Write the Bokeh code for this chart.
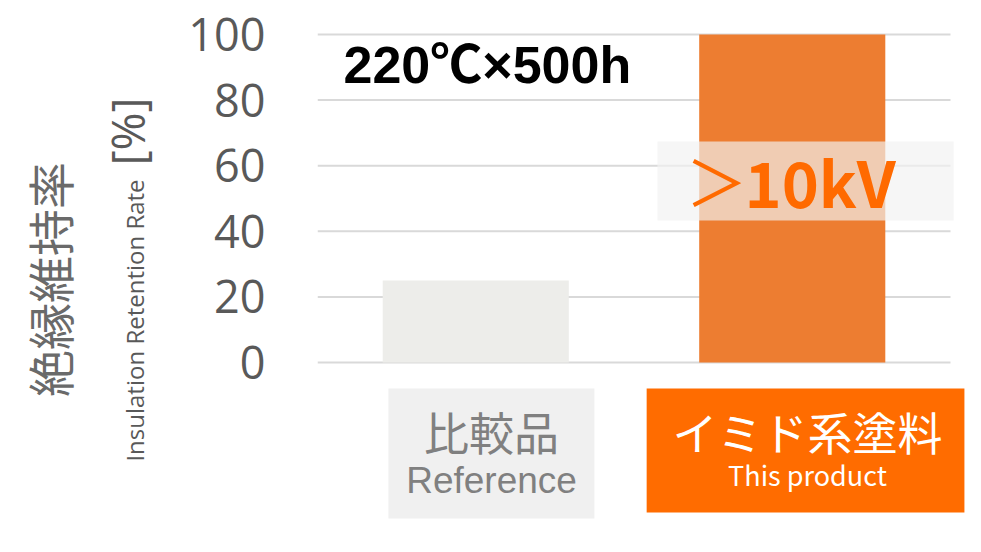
import math
from bokeh.plotting import figure
from bokeh.layouts import row
from bokeh.models import Range1d, FixedTicker, Label
from bokeh.core.properties import value
from bokeh.embed import file_html
from bokeh.resources import INLINE

# ---- data ----
categories_ja = ["比較品", "イミド系塗料"]
categories_en = ["Reference", "This product"]
retention = [25, 100]
y_ticks = [0, 20, 40, 60, 80, 100]
condition = "220℃×500h"
highlight_sign = "＞"
highlight_value = "10kV"
y_title_ja = "絶縁維持率"
y_title_en = "Insulation Retention Rate"
y_unit = "[%]"

# ---- styles ----
bar_colors = ["#EDEDEA", "#ED7D31"]
box_colors = ["#F0F0F0", "#FF6C00"]
label_colors = ["#808080", "#FFFFFF"]
AXIS_GRAY = "#595959"
HIGHLIGHT = "#FF6A00"

W, H = 965, 536
TITLE_W = 170
LEFT = 147
n = len(categories_ja)
xs = [i + 0.5 for i in range(n)]

# ---- left panel with the rotated axis titles ----
t = figure(width=TITLE_W, height=H, output_backend="svg", toolbar_location=None,
           x_range=Range1d(0, TITLE_W), y_range=Range1d(0, H),
           x_axis_location=None, y_axis_location=None,
           min_border_left=0, min_border_right=0, min_border_top=0, min_border_bottom=0)
t.outline_line_color = None
t.xgrid.grid_line_color = None
t.ygrid.grid_line_color = None
t.text(x=[48], y=[H - 279], text=[y_title_ja], angle=math.pi / 2, text_align="center",
       text_baseline="middle", text_font=value("Noto Sans CJK JP"), text_font_size="47px",
       text_color="#6A6A6A")
t.text(x=[134], y=[H - 320], text=[y_title_en], angle=math.pi / 2, text_align="center",
       text_baseline="middle", text_font=value("Open Sans"), text_font_size="24px",
       text_color=AXIS_GRAY)
t.text(x=[126], y=[H - 131], text=[y_unit], angle=math.pi / 2, text_align="center",
       text_baseline="middle", text_font=value("Open Sans"), text_font_size="46px",
       text_color=AXIS_GRAY)

# ---- main chart ----
p = figure(width=W - TITLE_W, height=H, output_backend="svg", toolbar_location=None,
           x_range=Range1d(0, 2.0474), y_range=Range1d(-53.05, 110.37),
           x_axis_location=None, min_border_left=LEFT, min_border_right=0,
           min_border_top=0, min_border_bottom=0)
p.outline_line_color = None
p.xgrid.grid_line_color = None
p.ygrid.grid_line_color = None

ax = p.yaxis[0]
ax.ticker = FixedTicker(ticks=y_ticks)
ax.axis_line_color = None
ax.major_tick_line_color = None
ax.minor_tick_line_color = None
ax.major_tick_in = 0
ax.major_tick_out = 0
ax.major_label_standoff = 52
ax.major_label_text_font = "Open Sans"
ax.major_label_text_font_size = "45px"
ax.major_label_text_color = AXIS_GRAY

# gridlines spanning the categories only
p.segment(x0=[0] * len(y_ticks), x1=[n] * len(y_ticks), y0=y_ticks, y1=y_ticks,
          line_color="#D9D9D9", line_width=2)

# bars
p.vbar(x=xs, top=retention, bottom=0, width=0.588, fill_color=bar_colors, line_color=None)

# highlight box + text on product bar
p.quad(left=[xs[1] - 0.426], right=[xs[1] + 0.51], bottom=[43.3], top=[67.4],
       fill_color="#F2F2F2", fill_alpha=0.68, line_color=None)
split_x = xs[1] - 0.151
p.text(x=[split_x + 0.01], y=[55.5], text=[highlight_sign], text_align="right", text_baseline="middle",
       text_font=value("Noto Sans CJK JP"), text_font_size="62px", text_color=HIGHLIGHT)
p.text(x=[split_x], y=[55.5], text=[highlight_value], text_align="left", text_baseline="middle",
       text_font=value("Noto Sans CJK JP"), text_font_style="bold", text_font_size="63px",
       text_color=HIGHLIGHT)

# category boxes below the axis
box_left = [xs[0] - 0.276, xs[1] - 0.46]
box_right = [xs[0] + 0.375, xs[1] + 0.544]
box_bottom = [-47.56, -45.73]
p.quad(left=box_left, right=box_right, top=[-7.93] * n, bottom=box_bottom,
       fill_color=box_colors, line_color=None)
text_x = [xs[0] + 0.05, xs[1] + 0.048]
p.text(x=text_x, y=[-21.0] * n, text=categories_ja, text_align="center", text_baseline="middle",
       text_font=value("Noto Sans CJK JP"), text_font_size="45px", text_color=label_colors)
p.text(x=[text_x[0]], y=[-36.0], text=[categories_en[0]], text_align="center", text_baseline="middle",
       text_font=value("Liberation Sans"), text_font_size="37px", text_color=label_colors[0])
p.text(x=[text_x[1]], y=[-34.1], text=[categories_en[1]], text_align="center", text_baseline="middle",
       text_font=value("Noto Sans CJK JP"), text_font_size="27px", text_color=label_colors[1])

# condition title
p.add_layout(Label(x=26, y=472, x_units="screen", y_units="screen", text=condition,
                   text_font="Liberation Sans, Noto Sans CJK JP", text_font_style="bold",
                   text_font_size="52px", text_color="#000000", text_baseline="middle"))

layout = row(t, p, spacing=0)
open("out.html", "w").write(file_html(layout, INLINE))
